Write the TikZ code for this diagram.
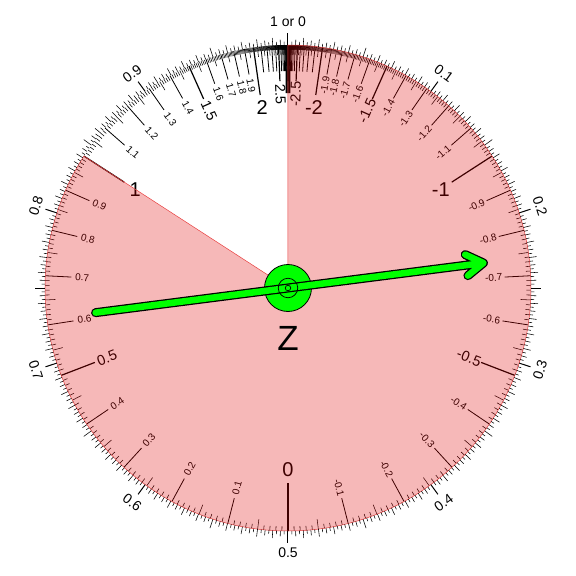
\documentclass[tikz,border=0pt]{standalone}
\usepackage{fontspec}
\setmainfont{Liberation Sans}
\usetikzlibrary{calc}
\definecolor{dialred}{HTML}{E00000}
\definecolor{edgered}{HTML}{E84040}
\definecolor{hubgreen}{HTML}{00FF00}
\def\erfT#1{(1/(1+0.3275911*(#1)))}
\def\erfA#1{(1-((((1.061405429*\erfT{#1}-1.453152027)*\erfT{#1}+1.421413741)*\erfT{#1}-0.284496736)*\erfT{#1}+0.254829592)*\erfT{#1}*exp(-((#1)*(#1))))}
\def\zang#1{\fpeval{round(-90-sign(#1)*180*\erfA{abs(#1)/sqrt(2)},3)}}
\def\isdiv#1#2{((#1)-(#2)*trunc((#1)/(#2))==0)}
\begin{document}
\begin{tikzpicture}[x=1pt,y=1pt,
  smalllab/.style={inner sep=0pt,font=\fontsize{10}{12}\selectfont},
  midlab/.style={inner sep=0pt,font=\fontsize{14.5}{17}\selectfont},
  biglab/.style={inner sep=0pt,font=\fontsize{20}{24}\selectfont},
  outlab/.style={inner sep=0pt,font=\fontsize{14}{17}\selectfont},
  zlab/.style={inner sep=0pt,font=\fontsize{35}{40}\selectfont},
  hubdisc/.style={circle,draw=black,line width=0.8pt,fill=hubgreen,minimum size=47pt,inner sep=0pt},
  ringmark/.style={circle,draw=black,line width=0.7pt,inner sep=0pt},
  arrowout/.style={draw=black,line width=9pt,line cap=round,line join=round},
  arrowin/.style={draw=hubgreen,line width=6.5pt,line cap=round,line join=round},
  sectorfill/.style={fill=dialred,fill opacity=0.28},
  sectoredge/.style={draw=edgered,line width=0.5pt}
]
\useasboundingbox (-288,-288) rectangle (288,288);
% inner z ticks
\foreach \i in {-400,...,400}{
  \edef\a{\zang{\i/100}}
  \edef\L{\fpeval{\isdiv{\i}{100}?48:(\isdiv{\i}{50}?36:(\isdiv{\i}{10}?26:(\isdiv{\i}{5}?10:4.5)))}}
  \edef\W{\fpeval{\isdiv{\i}{50}?1.2:(\isdiv{\i}{10}?0.8:0.55)}}
  \draw[line width=\W] (\a:243) -- (\a:{243-\L});
}
% small inner labels
\foreach \z [count=\n] in {0.1,0.2,0.3,0.4,0.6,0.7,0.8,0.9,1.1,1.2,1.3,1.4,1.6,1.7,1.8,1.9,-0.1,-0.2,-0.3,-0.4,-0.6,-0.7,-0.8,-0.9,-1.1,-1.2,-1.3,-1.4,-1.6,-1.7,-1.8,-1.9}{
  \edef\a{\zang{\z}}
  \edef\r{\fpeval{cosd(\a)>=0?\a:\a+180}}
  \node[smalllab,rotate=\r] (zs\n) at (\a:206) {\z};
}
% medium inner labels
\foreach \z [count=\n] in {0.5,1.5,2.5,-0.5,-1.5,-2.5}{
  \edef\a{\zang{\z}}
  \edef\r{\fpeval{cosd(\a)>=0?\a:\a+180}}
  \node[midlab,rotate=\r] (zm\n) at (\a:194) {\z};
}
% large inner labels
\foreach \z [count=\n] in {0,1,2,-1,-2}{
  \edef\a{\zang{\z}}
  \node[biglab] (zb\n) at (\a:182) {\z};
}
% shaded sector
\edef\aone{\zang{1}}
\fill[sectorfill] (0,0) -- (90:243) arc[start angle=90, end angle=\aone, radius=243] -- cycle;
\draw[sectoredge] (0,0) -- (90:243) arc[start angle=90, end angle=\aone, radius=243] -- cycle;
% outer p ticks
\foreach \i in {0,...,399}{
  \edef\a{\fpeval{90-0.9*\i}}
  \edef\L{\fpeval{\isdiv{\i}{40}?12:(\isdiv{\i}{20}?9.5:(\isdiv{\i}{4}?7.5:(\isdiv{\i}{2}?5.5:3.5)))}}
  \edef\W{\fpeval{\isdiv{\i}{40}?1:0.55}}
  \draw[line width=\W] (\a:243) -- (\a:{243+\L});
}
% outer labels
\foreach \p [count=\n] in {0.1,0.2,0.3,0.4,0.5,0.6,0.7,0.8,0.9}{
  \edef\a{\fpeval{90-360*\p}}
  \edef\r{\fpeval{-360*\p}}
  \edef\r{\fpeval{(\r<-270)?\r+360:((\r<-90)?\r+180:\r)}}
  \node[outlab,rotate=\r] (p\n) at (\a:265) {\p};
}
\node[outlab] (ptop) at (90:266) {1 or 0};
% hub and pointer
\node[hubdisc] (hub) at (0,0) {};
\coordinate (atail) at (187.3:194);
\coordinate (atip) at (7.3:197);
\coordinate (barbA) at ($(atip)!20pt!32:(atail)$);
\coordinate (barbB) at ($(atip)!20pt!-32:(atail)$);
\path[arrowout] (atail) -- (atip) (barbA) -- (atip) -- (barbB);
\path[arrowin] (atail) -- (atip) (barbA) -- (atip) -- (barbB);
\node[ringmark,minimum size=19.5pt] (ringA) at (hub.center) {};
\node[ringmark,minimum size=5.5pt] (ringB) at (hub.center) {};
\node[zlab] (zlabel) at (0,-50) {Z};
\end{tikzpicture}
\end{document}
